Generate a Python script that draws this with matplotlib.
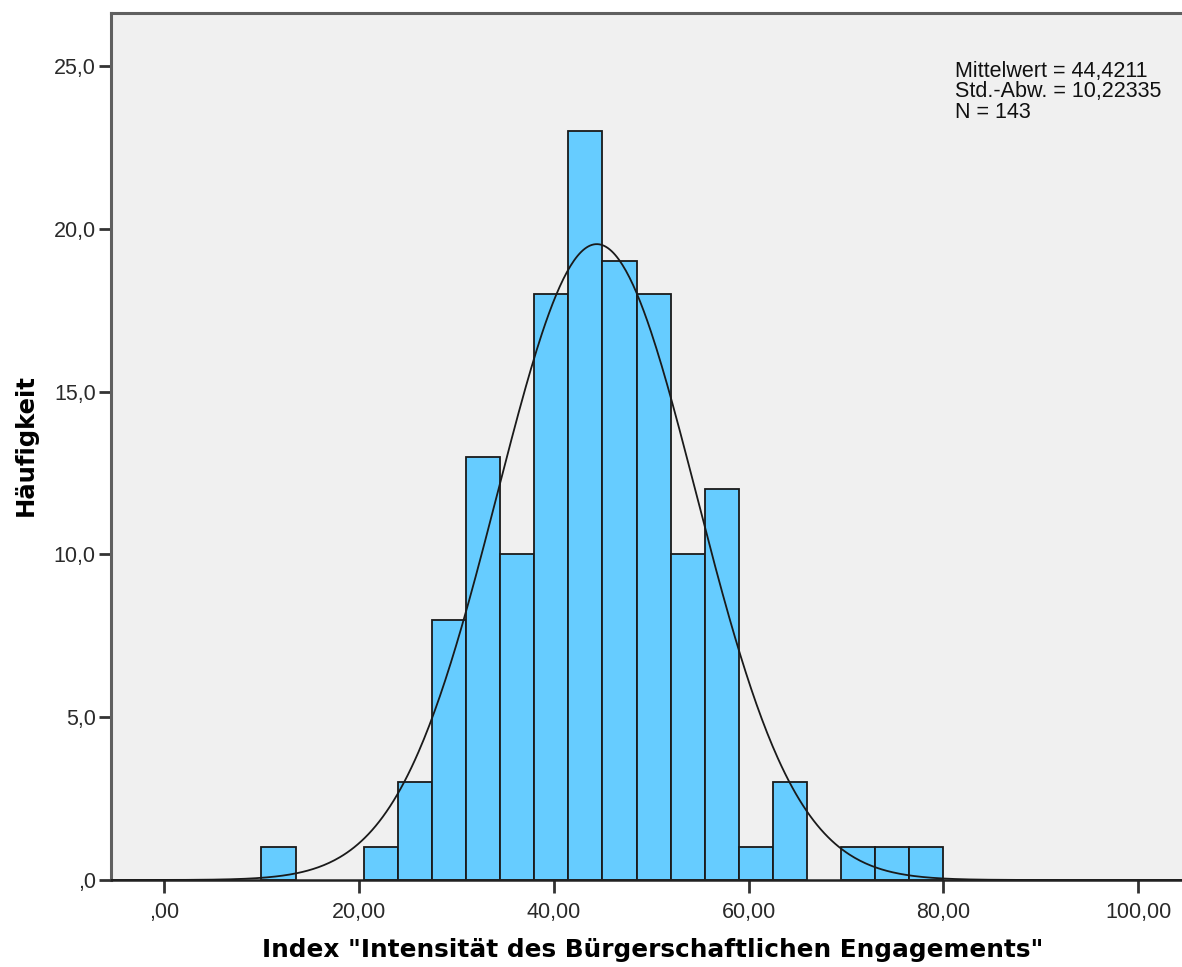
import numpy as np
import matplotlib
matplotlib.use("Agg")
import matplotlib.pyplot as plt
from matplotlib.ticker import FuncFormatter

# ---- data ----
bin_edges = [10.0, 13.5, 17.0, 20.5, 24.0, 27.5, 31.0, 34.5, 38.0, 41.5, 45.0,
             48.5, 52.0, 55.5, 59.0, 62.5, 66.0, 69.5, 73.0, 76.5, 80.0]
counts = [1, 0, 0, 1, 3, 8, 13, 10, 18, 23, 19, 18, 10, 12, 1, 3, 0, 1, 1, 1]
mean_val = 44.4211
sd_val = 10.22335
n_val = 143
x_ticks = [0, 20, 40, 60, 80, 100]
y_ticks = [0, 5, 10, 15, 20, 25]
stats_lines = ["Mittelwert = 44,4211", "Std.-Abw. = 10,22335", "N = 143"]
x_label = 'Index "Intensität des Bürgerschaftlichen Engagements"'
y_label = "Häufigkeit"

W, H = 1182, 967
fig = plt.figure(figsize=(W / 100, H / 100), dpi=100)
ax = fig.add_axes([111 / W, (H - 880) / H, 1 - 111 / W, (880 - 13) / H])
ax.set_facecolor("#F0F0F0")

edges = np.array(bin_edges)
cnt = np.array(counts)
lefts = edges[:-1]
widths = np.diff(edges)
mask = cnt > 0
ax.bar(lefts[mask], cnt[mask], width=widths[mask], align="edge",
       color="#66CCFF", edgecolor="#1a1a1a", linewidth=1.3, zorder=2)

xs = np.linspace(-5.45, 104.5, 600)
bw = widths[0]
ys = n_val * bw / (sd_val * np.sqrt(2 * np.pi)) * np.exp(-0.5 * ((xs - mean_val) / sd_val) ** 2)
ax.plot(xs, ys, color="#1a1a1a", linewidth=1.3, zorder=3)

ax.set_xlim(-5.45, 104.5)
ax.set_ylim(0, 26.63)


def fmt(v, dec):
    s = f"{v:.{dec}f}".replace(".", ",")
    if s.startswith("0,"):
        s = s[1:]
    return s


ax.set_xticks(x_ticks)
ax.set_yticks(y_ticks)
ax.xaxis.set_major_formatter(FuncFormatter(lambda v, p: fmt(v, 2)))
ax.yaxis.set_major_formatter(FuncFormatter(lambda v, p: fmt(v, 1)))

for lab in ax.get_xticklabels() + ax.get_yticklabels():
    lab.set_fontfamily("Liberation Sans")
    lab.set_fontsize(15.5)
    lab.set_color("#2a2a2a")

ax.tick_params(axis="both", direction="out", length=9, width=2, color="#333333")
ax.tick_params(axis="x", pad=7)
ax.tick_params(axis="y", pad=2)

ax.spines["right"].set_visible(False)
for s in ["top", "left"]:
    ax.spines[s].set_color("#606060")
    ax.spines[s].set_linewidth(2.2)
ax.spines["bottom"].set_color("#222222")
ax.spines["bottom"].set_linewidth(1.8)

fig.text(653 / W, 1 - 950 / H, x_label, ha="center", va="center",
         family="DejaVu Sans", weight="bold", fontsize=17.8)
fig.text(26 / W, 1 - 445 / H, y_label, ha="center", va="center", rotation=90,
         family="DejaVu Sans", weight="bold", fontsize=17.5)

for i, line in enumerate(stats_lines):
    fig.text(955 / W, 1 - (77 + 20.5 * i) / H, line, ha="left", va="baseline",
             family="Liberation Sans", fontsize=15.5, color="#111111")

fig.savefig("out.png", dpi=100)
